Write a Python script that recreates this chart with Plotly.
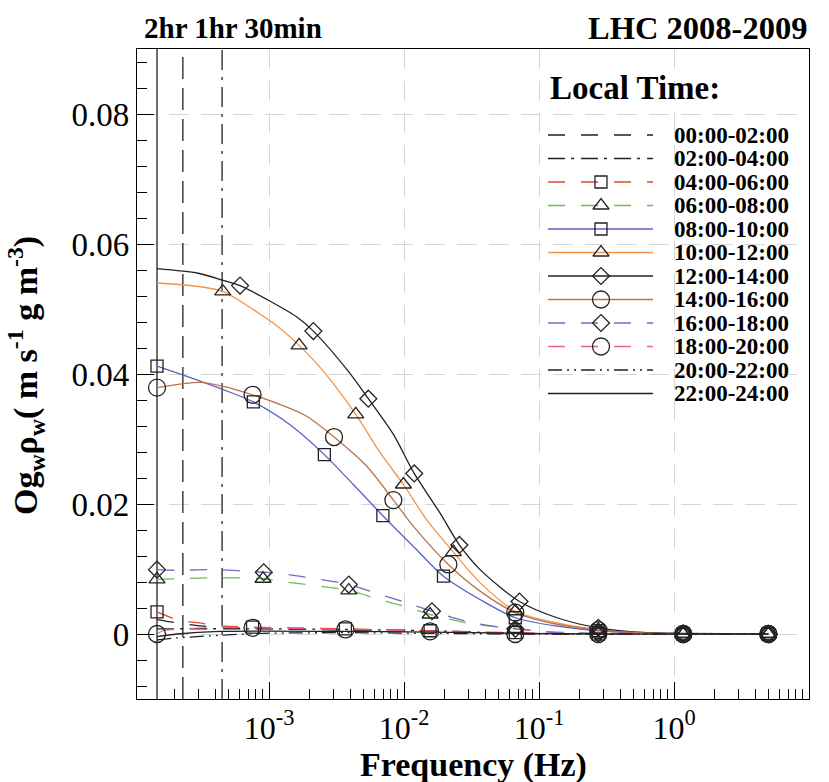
import plotly.graph_objects as go

SERIF = "Liberation Serif"
INK = "#222222"

# ---------------------------------------------------------------------------
# Ogive curves by local time (frequency in Hz, value in m s^-1 g m^-3)
# Each series: frequencies, values, and the indices of points carrying a symbol
# ---------------------------------------------------------------------------
f_0002 = [1.48e-4, 2.08e-4, 3.30e-4, 7.55e-4, 3.68e-3, 1.56e-2, 6.67e-2, 0.275, 1.17, 5.0]
v_0002 = [0.0022, 0.0017, 0.0012, 0.0009, 0.0006, 0.0004, 0.0001, 0.0, 0.0, 0.0]
m_0002 = []

f_0204 = [1.48e-4, 7.55e-4, 3.68e-3, 1.56e-2, 6.67e-2, 0.275, 1.17, 5.0]
v_0204 = [0.0008, 0.0008, 0.0007, 0.0005, 0.0001, 0.0, 0.0, 0.0]
m_0204 = []

f_0406 = [1.48e-4, 2.08e-4, 3.30e-4, 4.12e-4, 7.55e-4, 1.53e-3, 3.68e-3, 6.32e-3,
          1.56e-2, 6.67e-2, 0.275, 1.17, 5.0]
v_0406 = [0.0034, 0.0022, 0.0016, 0.0013, 0.00105, 0.00095, 0.0008, 0.0007,
          0.0005, 0.0002, 0.0, 0.0, 0.0]
m_0406 = [0, 4, 6, 8, 9, 10, 11, 12]

f_0608 = [1.48e-4, 2.08e-4, 3.89e-4, 9.03e-4, 1.21e-3, 3.90e-3, 6.32e-3, 1.11e-2,
          1.56e-2, 3.09e-2, 6.67e-2, 0.136, 0.275, 1.17, 5.0]
v_0608 = [0.0084, 0.0085, 0.00865, 0.0085, 0.0081, 0.0067, 0.0054, 0.0040,
          0.0030, 0.0016, 0.0008, 0.0003, 0.0001, 0.0, 0.0]
m_0608 = [0, 3, 5, 8, 10, 12, 13, 14]

f_0810 = [1.48e-4, 2.91e-4, 4.58e-4, 7.65e-4, 1.43e-3, 2.57e-3, 4.21e-3, 6.97e-3,
          1.17e-2, 1.96e-2, 3.66e-2, 6.67e-2, 0.136, 0.275, 1.17, 5.0]
v_0810 = [0.0412, 0.0391, 0.0376, 0.0357, 0.0322, 0.0276, 0.0230, 0.0182,
          0.0135, 0.0089, 0.0053, 0.0025, 0.0012, 0.0005, 0.0, 0.0]
m_0810 = [0, 3, 5, 7, 9, 11, 13, 14, 15]

f_1012 = [1.48e-4, 2.91e-4, 4.54e-4, 7.65e-4, 1.21e-3, 1.67e-3, 2.46e-3, 4.39e-3,
          6.65e-3, 9.90e-3, 1.47e-2, 2.32e-2, 3.66e-2, 6.67e-2, 0.136, 0.275, 1.17, 5.0]
v_1012 = [0.0540, 0.0535, 0.0527, 0.0499, 0.0470, 0.0444, 0.0407, 0.0338,
          0.0279, 0.0230, 0.0176, 0.0126, 0.0079, 0.0035, 0.0017, 0.0007, 0.0, 0.0]
m_1012 = [2, 5, 7, 9, 11, 13, 15, 16, 17]

f_1214 = [1.48e-4, 2.98e-4, 4.58e-4, 6.10e-4, 1.02e-3, 1.60e-3, 2.13e-3, 3.77e-3,
          5.44e-3, 8.34e-3, 1.19e-2, 1.85e-2, 2.57e-2, 3.66e-2, 7.17e-2, 0.136,
          0.275, 0.63, 1.17, 5.0]
v_1214 = [0.0562, 0.0555, 0.0544, 0.0536, 0.0512, 0.0488, 0.0466, 0.0407,
          0.0362, 0.0307, 0.0247, 0.0186, 0.0137, 0.0099, 0.0050, 0.0025,
          0.00095, 0.0002, 0.0001, 0.0]
m_1214 = [3, 6, 8, 10, 12, 14, 16, 18, 19]

f_1416 = [1.48e-4, 3.08e-4, 4.58e-4, 7.55e-4, 1.21e-3, 1.90e-3, 3.03e-3, 5.30e-3,
          8.34e-3, 1.17e-2, 2.13e-2, 3.66e-2, 6.67e-2, 0.136, 0.275, 1.17, 5.0]
v_1416 = [0.0379, 0.0387, 0.0381, 0.0368, 0.0353, 0.0335, 0.0303, 0.0258,
          0.0206, 0.0166, 0.0107, 0.0066, 0.0033, 0.0015, 0.0006, 0.0, 0.0]
m_1416 = [0, 3, 6, 8, 10, 12, 14, 15, 16]

f_1618 = [1.48e-4, 2.08e-4, 3.89e-4, 9.14e-4, 1.21e-3, 3.90e-3, 6.32e-3, 1.05e-2,
          1.61e-2, 3.09e-2, 6.67e-2, 0.136, 0.275, 1.17, 5.0]
v_1618 = [0.0099, 0.0098, 0.0099, 0.0095, 0.0093, 0.0076, 0.0062, 0.0048,
          0.0035, 0.0018, 0.0008, 0.0002, 0.0001, 0.0, 0.0]
m_1618 = [0, 3, 5, 8, 10, 12, 13, 14]

f_1820 = [1.48e-4, 1.64e-4, 2.08e-4, 3.30e-4, 7.55e-4, 3.68e-3, 6.32e-3, 1.56e-2,
          6.67e-2, 0.275, 1.17, 5.0]
v_1820 = [0.0, 0.0005, 0.0007, 0.00095, 0.00095, 0.0007, 0.0006, 0.0004,
          0.0, 0.0, 0.0, 0.0]
m_1820 = [0, 4, 5, 7, 8, 9, 10, 11]

f_2022 = [1.48e-4, 2.08e-4, 4.34e-4, 9.0e-4, 3.68e-3, 1.56e-2, 6.67e-2, 0.275, 1.17, 5.0]
v_2022 = [-0.0009, -0.0006, -0.0002, 0.0001, 0.0002, 0.0001, 0.0, 0.0, 0.0, 0.0]
m_2022 = []

f_2224 = [1.48e-4, 2.08e-4, 4.34e-4, 3.68e-3, 1.56e-2, 6.67e-2, 0.275, 1.17, 5.0]
v_2224 = [-0.0004, 0.0, 0.0004, 0.0004, 0.0003, 0.0001, 0.0, 0.0, 0.0]
m_2224 = []

local_times = ["00:00-02:00", "02:00-04:00", "04:00-06:00", "06:00-08:00",
               "08:00-10:00", "10:00-12:00", "12:00-14:00", "14:00-16:00",
               "16:00-18:00", "18:00-20:00", "20:00-22:00", "22:00-24:00"]
freqs = [f_0002, f_0204, f_0406, f_0608, f_0810, f_1012,
         f_1214, f_1416, f_1618, f_1820, f_2022, f_2224]
values = [v_0002, v_0204, v_0406, v_0608, v_0810, v_1012,
          v_1214, v_1416, v_1618, v_1820, v_2022, v_2224]
marked = [m_0002, m_0204, m_0406, m_0608, m_0810, m_1012,
          m_1214, m_1416, m_1618, m_1820, m_2022, m_2224]

# Frequencies of the 2 hr / 1 hr / 30 min reference lines
period_freqs = [1.48e-4, 2.30e-4, 4.49e-4]

x_tick_vals = [1e-3, 1e-2, 1e-1, 1e0, 1e1]
x_tick_text = ["10<sup>-3</sup>", "10<sup>-2</sup>", "10<sup>-1</sup>",
               "10<sup>0</sup>", "10<sup>1</sup>"]
y_tick_vals = [0, 0.02, 0.04, 0.06, 0.08]
y_tick_text = ["0", "0.02", "0.04", "0.06", "0.08"]
Y_MIN, Y_MAX = -0.01, 0.09

# ---------------------------------------------------------------------------
# Styles
# ---------------------------------------------------------------------------
DASH = "17px,16px"
DASHDOT = "17px,6px,3px,7px"
DASHDOTDOT = "14px,5px,2px,5px,2px,5px"

styles = [
    dict(color=INK, dash=DASH, symbol=None),
    dict(color=INK, dash=DASHDOT, symbol=None),
    dict(color="#e4462e", dash=DASH, symbol="square-open"),
    dict(color="#6cc04c", dash=DASH, symbol="triangle-up-open"),
    dict(color="#5862c4", dash="solid", symbol="square-open"),
    dict(color="#f49348", dash="solid", symbol="triangle-up-open"),
    dict(color=INK, dash="solid", symbol="diamond-open"),
    dict(color="#b8744a", dash="solid", symbol="circle-open"),
    dict(color="#8064c8", dash=DASH, symbol="diamond-open"),
    dict(color="#ec5ea4", dash=DASH, symbol="circle-open"),
    dict(color=INK, dash=DASHDOTDOT, symbol=None),
    dict(color=INK, dash="solid", symbol=None),
]
symbol_size = {"square-open": 12, "triangle-up-open": 14,
               "diamond-open": 13, "circle-open": 17}


def bold(size):
    return dict(family=SERIF, size=size, color="black", weight="bold")


fig = go.Figure()

# Vertical period lines
for pf, dsh in zip(period_freqs, ["solid", "22px,9px", "20px,7px,3px,7px"]):
    fig.add_trace(go.Scatter(x=[pf, pf], y=[Y_MIN, Y_MAX], mode="lines",
                             line=dict(color=INK, width=1.3, dash=dsh),
                             hoverinfo="skip", showlegend=False))

# Curves, then symbols on top
for f, v, st in zip(freqs, values, styles):
    fig.add_trace(go.Scatter(x=f, y=v, mode="lines",
                             line=dict(color=st["color"], width=1.3, dash=st["dash"],
                                       shape="spline", smoothing=0.8),
                             showlegend=False))
for f, v, mk, st in zip(freqs, values, marked, styles):
    if st["symbol"] and mk:
        fig.add_trace(go.Scatter(x=[f[i] for i in mk], y=[v[i] for i in mk],
                                 mode="markers",
                                 marker=dict(symbol=st["symbol"],
                                             size=symbol_size[st["symbol"]],
                                             color=INK, line=dict(width=1.3, color=INK)),
                                 showlegend=False))

# ---------------------------------------------------------------------------
# Key drawn on a pixel-unit overlay (x2/y2) inside the plotting frame
# ---------------------------------------------------------------------------
PLOT_W, PLOT_H = 672, 650
KEY_X0, KEY_X1, KEY_MARK, KEY_TEXT = 411, 516, 464, 535
KEY_ROW0, KEY_STEP = 86, 23.5

annotations = []
for i, (name, st) in enumerate(zip(local_times, styles)):
    ry = KEY_ROW0 + KEY_STEP * i
    fig.add_trace(go.Scatter(x=[KEY_X0, KEY_X1], y=[ry, ry], mode="lines",
                             xaxis="x2", yaxis="y2",
                             line=dict(color=st["color"], width=1.3, dash=st["dash"]),
                             hoverinfo="skip", showlegend=False))
    if st["symbol"]:
        fig.add_trace(go.Scatter(x=[KEY_MARK], y=[ry], mode="markers",
                                 xaxis="x2", yaxis="y2",
                                 marker=dict(symbol=st["symbol"],
                                             size=symbol_size[st["symbol"]],
                                             color=INK, line=dict(width=1.3, color=INK)),
                                 hoverinfo="skip", showlegend=False))
    annotations.append(dict(x=KEY_TEXT, y=ry, xref="x2", yref="y2", text=name,
                            showarrow=False, xanchor="left", yanchor="middle",
                            font=bold(23)))

annotations.append(dict(x=KEY_X0, y=39, xref="x2", yref="y2", text="Local Time:",
                        showarrow=False, xanchor="left", yanchor="middle",
                        font=bold(33)))

# Titles and header labels
annotations += [
    dict(x=0.008, y=1.032, xref="paper", yref="paper", text="2hr 1hr 30min",
         showarrow=False, xanchor="left", yanchor="middle", font=bold(29)),
    dict(x=1.0, y=1.032, xref="paper", yref="paper", text="LHC 2008-2009",
         showarrow=False, xanchor="right", yanchor="middle", font=bold(32.5)),
    dict(x=0.5, y=-0.101, xref="paper", yref="paper", text="Frequency (Hz)",
         showarrow=False, xanchor="center", yanchor="middle", font=bold(34)),
    dict(x=-0.165, y=0.497, xref="paper", yref="paper", textangle=-90,
         text="Og<sub>w</sub>ρ<sub>w</sub>( m s<sup>-1</sup> g m<sup>-3</sup>)",
         showarrow=False, xanchor="center", yanchor="middle", font=bold(34)),
]

minor_x = [m * 10.0 ** e for e in range(-4, 1) for m in range(2, 10)]

fig.update_layout(
    width=829, height=782,
    margin=dict(l=137, r=20, t=49, b=83),
    paper_bgcolor="white", plot_bgcolor="white",
    showlegend=False,
    annotations=annotations,
    xaxis=dict(
        type="log", range=[-3.978, 1.0],
        showline=True, linecolor="black", linewidth=1.4, mirror=True,
        ticks="inside", ticklen=17, tickwidth=1.3, tickcolor="black",
        tickvals=x_tick_vals, ticktext=x_tick_text,
        tickfont=dict(family=SERIF, size=32, color="black"),
        showgrid=True, gridcolor="#d6d6d6", gridwidth=1.3, griddash="20px,12px",
        minor=dict(ticks="inside", ticklen=10, tickwidth=1.3, tickcolor="black",
                   tickvals=minor_x, showgrid=False),
        zeroline=False,
    ),
    yaxis=dict(
        range=[Y_MIN, Y_MAX],
        showline=True, linecolor="black", linewidth=1.4, mirror=True,
        ticks="inside", ticklen=17, tickwidth=1.3, tickcolor="black",
        tickvals=y_tick_vals, ticktext=y_tick_text,
        tickfont=dict(family=SERIF, size=33, color="black"),
        showgrid=True, gridcolor="#d6d6d6", gridwidth=1.3, griddash="20px,12px",
        minor=dict(ticks="inside", ticklen=10, tickwidth=1.3, tickcolor="black",
                   tick0=0, dtick=0.004, showgrid=False),
        zeroline=False,
    ),
    xaxis2=dict(overlaying="x", range=[0, PLOT_W], visible=False, fixedrange=True),
    yaxis2=dict(overlaying="y", range=[PLOT_H, 0], visible=False, fixedrange=True),
)

fig.write_html("out.html")
